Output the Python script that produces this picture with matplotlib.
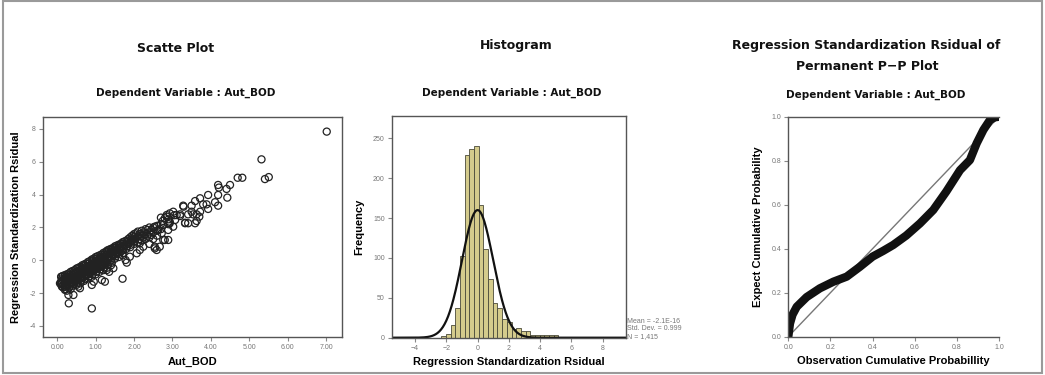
import matplotlib
matplotlib.use("Agg")
import matplotlib.pyplot as plt
import numpy as np
from matplotlib.patches import Rectangle

# ---------------- data ----------------
# Scatter: Aut_BOD vs regression standardized residual
scatter_x = [
    0.10, 0.10, 0.10, 0.15, 0.15, 0.15, 0.20, 0.20, 0.20, 0.20,
    0.25, 0.25, 0.25, 0.25, 0.30, 0.30, 0.30, 0.30, 0.30, 0.35,
    0.35, 0.35, 0.35, 0.40, 0.40, 0.40, 0.40, 0.40, 0.45, 0.45,
    0.45, 0.45, 0.50, 0.50, 0.50, 0.50, 0.50, 0.55, 0.55, 0.55,
    0.55, 0.60, 0.60, 0.60, 0.60, 0.60, 0.65, 0.65, 0.65, 0.65,
    0.70, 0.70, 0.70, 0.70, 0.70, 0.75, 0.75, 0.75, 0.75, 0.80,
    0.80, 0.80, 0.80, 0.80, 0.85, 0.85, 0.85, 0.85, 0.90, 0.90,
    0.90, 0.90, 0.90, 0.95, 0.95, 0.95, 0.95, 1.00, 1.00, 1.00,
    1.00, 1.00, 1.05, 1.05, 1.05, 1.05, 1.10, 1.10, 1.10, 1.10,
    1.10, 1.15, 1.15, 1.15, 1.15, 1.20, 1.20, 1.20, 1.20, 1.20,
    1.25, 1.25, 1.25, 1.25, 1.30, 1.30, 1.30, 1.30, 1.30, 1.35,
    1.35, 1.35, 1.40, 1.40, 1.40, 1.40, 1.40, 1.45, 1.45, 1.45,
    1.50, 1.50, 1.50, 1.50, 1.55, 1.55, 1.55, 1.60, 1.60, 1.60,
    1.60, 1.65, 1.65, 1.65, 1.70, 1.70, 1.70, 1.70, 1.75, 1.75,
    1.80, 1.80, 1.80, 1.85, 1.85, 1.90, 1.90, 1.90, 1.95, 1.95,
    2.00, 2.00, 2.00, 2.05, 2.05, 2.10, 2.10, 2.10, 2.20, 2.20,
    2.20, 2.30, 2.30, 2.30, 2.40, 2.40, 2.40, 2.40, 2.50, 2.50,
    2.50, 2.60, 2.60, 2.60, 2.70, 2.70,
    # second, offset layer of the dense band
    0.12, 0.12, 0.12, 0.22, 0.22, 0.22, 0.22, 0.32, 0.32, 0.32,
    0.32, 0.42, 0.42, 0.42, 0.42, 0.52, 0.52, 0.52, 0.52, 0.62,
    0.62, 0.62, 0.62, 0.72, 0.72, 0.72, 0.72, 0.82, 0.82, 0.82,
    0.82, 0.92, 0.92, 0.92, 0.92, 1.02, 1.02, 1.02, 1.02, 1.12,
    1.12, 1.12, 1.12, 1.22, 1.22, 1.22, 1.22, 1.32, 1.32, 1.32,
    1.32, 1.42, 1.42, 1.42, 1.42, 1.52, 1.52, 1.52, 1.62, 1.62,
    1.62, 1.72, 1.72, 1.72, 1.82, 1.82, 1.92, 1.92, 2.02, 2.02,
    2.15, 2.15, 2.25, 2.25, 2.35, 2.35, 2.45, 2.45,
    # sparse / outlying points
    7.02, 5.32, 4.70, 4.82, 5.41, 5.51, 4.19, 4.21, 4.50, 4.41,
    3.93, 4.19, 4.43, 3.72, 3.59, 3.50, 4.11, 4.19, 3.89, 3.80,
    3.93, 3.72, 3.63, 3.70, 3.28, 3.50, 3.41, 3.54, 3.02, 2.93,
    3.11, 3.20, 2.85, 2.80, 2.93, 3.07, 3.33, 3.41, 3.63, 3.59,
    2.76, 2.89, 2.80, 2.67, 2.54, 2.54, 2.63, 2.72, 2.89, 2.76,
    2.54, 2.59, 2.15, 2.07, 1.89, 1.78, 2.15, 2.24, 1.81, 1.70,
    1.46, 1.29, 1.16, 1.24, 0.90, 0.59, 0.42, 0.29, 0.20, 0.30,
    0.90, 0.07, 0.11, 3.29, 2.85, 2.93, 3.02, 3.33, 2.70, 2.75,
    2.90, 2.90, 3.05, 3.20, 0.25, 0.35, 0.55, 0.95, 1.35, 0.15,
]
scatter_y = [
    -1.00, -1.30, -1.45, -0.95, -1.20, -1.50, -0.90, -1.10, -1.35, -1.60,
    -0.85, -1.05, -1.30, -1.55, -0.80, -1.00, -1.20, -1.45, -1.70, -0.70,
    -0.95, -1.15, -1.40, -0.65, -0.90, -1.10, -1.35, -1.55, -0.60, -0.80,
    -1.05, -1.30, -0.50, -0.75, -1.00, -1.25, -1.50, -0.45, -0.70, -0.95,
    -1.20, -0.40, -0.60, -0.85, -1.10, -1.40, -0.30, -0.55, -0.80, -1.05,
    -0.25, -0.50, -0.75, -1.00, -1.25, -0.20, -0.40, -0.65, -0.90, -0.10,
    -0.35, -0.60, -0.85, -1.10, -0.05, -0.30, -0.55, -0.80, 0.05, -0.20,
    -0.45, -0.70, -1.00, 0.10, -0.15, -0.40, -0.65, 0.20, -0.05, -0.30,
    -0.55, -0.85, 0.25, 0.00, -0.25, -0.50, 0.30, 0.10, -0.15, -0.40,
    -0.70, 0.35, 0.15, -0.10, -0.35, 0.45, 0.20, -0.05, -0.30, -0.60,
    0.50, 0.30, 0.05, -0.20, 0.60, 0.35, 0.10, -0.15, -0.45, 0.65,
    0.40, 0.15, 0.70, 0.50, 0.25, 0.00, -0.30, 0.75, 0.55, 0.30,
    0.85, 0.60, 0.35, 0.10, 0.90, 0.65, 0.40, 0.95, 0.75, 0.50,
    0.20, 1.00, 0.80, 0.55, 1.10, 0.85, 0.60, 0.30, 1.15, 0.90,
    1.20, 0.95, 0.70, 1.30, 1.00, 1.40, 1.10, 0.80, 1.50, 1.20,
    1.60, 1.30, 1.00, 1.65, 1.35, 1.75, 1.45, 1.10, 1.80, 1.50,
    1.20, 1.90, 1.60, 1.30, 2.00, 1.70, 1.40, 1.00, 2.00, 1.70,
    1.30, 2.10, 1.80, 1.50, 2.20, 1.90,
    -1.15, -1.40, -1.60, -1.00, -1.25, -1.50, -1.75, -0.90, -1.10, -1.35,
    -1.60, -0.75, -1.00, -1.25, -1.45, -0.65, -0.90, -1.15, -1.40, -0.50,
    -0.75, -0.95, -1.25, -0.35, -0.60, -0.90, -1.15, -0.20, -0.45, -0.70,
    -1.00, -0.05, -0.30, -0.60, -0.85, 0.10, -0.15, -0.40, -0.70, 0.20,
    0.00, -0.25, -0.55, 0.35, 0.10, -0.15, -0.45, 0.50, 0.25, 0.00,
    -0.30, 0.60, 0.40, 0.15, -0.15, 0.75, 0.50, 0.25, 0.85, 0.65,
    0.40, 1.00, 0.75, 0.45, 1.10, 0.85, 1.25, 0.95, 1.45, 1.15,
    1.60, 1.30, 1.70, 1.40, 1.85, 1.50, 1.85, 1.55,
    7.84, 6.15, 5.03, 5.03, 4.95, 5.07, 4.59, 4.43, 4.59, 4.35,
    3.98, 3.98, 3.82, 3.78, 3.61, 3.33, 3.54, 3.33, 3.41, 3.41,
    3.13, 2.96, 2.80, 2.66, 3.33, 2.96, 2.80, 2.80, 2.96, 2.86,
    2.76, 2.80, 2.76, 2.56, 2.35, 2.46, 2.26, 2.26, 2.40, 2.26,
    2.15, 1.85, 1.24, 0.83, 0.73, 2.05, 1.85, 1.65, 1.24, 1.24,
    0.83, 0.63, 1.04, 0.43, 0.22, 0.02, 0.63, 0.83, -0.14, -1.12,
    -0.48, -0.59, -1.20, -1.30, -1.50, -1.70, -2.11, -2.11, -1.80, -2.62,
    -2.93, -1.40, -1.00, 3.27, 2.66, 2.26, 2.05, 2.29, 2.60, 2.40,
    2.50, 2.20, 2.75, 2.70, -1.85, -1.75, -1.60, -1.30, -0.70, -1.65,
]

# Histogram of standardized residuals (bin left edges and counts)
hist_left = [-2.33, -2.03, -1.73, -1.43, -1.13, -0.83, -0.53, -0.23, 0.07, 0.37,
             0.67, 0.97, 1.27, 1.57, 1.87, 2.17, 2.47, 2.77, 3.07, 3.37,
             3.67, 3.97, 4.27, 4.57, 4.87, 6.07, 7.97]
hist_count = [2, 5, 16, 37, 102, 229, 237, 240, 166, 111,
              74, 43, 37, 24, 20, 11, 12, 8, 8, 4,
              4, 3, 3, 3, 3, 1, 1]
hist_bin_width = 0.30
hist_mean = 0.0
hist_std = 0.999
normal_peak = 160
stats_text = "Mean = -2.1E-16\nStd. Dev. = 0.999\nN = 1,415"

# P-P plot (observed cumulative prob vs expected cumulative prob)
pp_obs = [0.0, 0.008, 0.02, 0.04, 0.087, 0.15, 0.214, 0.277, 0.34, 0.40,
          0.45, 0.498, 0.56, 0.625, 0.688, 0.75, 0.815, 0.862, 0.894, 0.926,
          0.957, 0.98, 1.0]
pp_exp = [0.0, 0.06, 0.10, 0.136, 0.18, 0.22, 0.25, 0.273, 0.318, 0.364,
          0.39, 0.417, 0.46, 0.515, 0.576, 0.66, 0.757, 0.803, 0.879, 0.94,
          0.985, 0.997, 1.0]

scatter_xticks = [0, 1, 2, 3, 4, 5, 6, 7]
scatter_yticks = [-4, -2, 0, 2, 4, 6, 8]
hist_xticks = [-4, -2, 0, 2, 4, 6, 8]
hist_yticks = [0, 50, 100, 150, 200, 250]
pp_ticks = [0.0, 0.2, 0.4, 0.6, 0.8, 1.0]

# ---------------- style ----------------
TITLE_FONT = ['Liberation Sans Narrow', 'DejaVu Sans']
LABEL_FONT = ['Liberation Sans', 'DejaVu Sans']
TICK_COLOR = '#888888'
SPINE_COLOR = '#555555'

fig = plt.figure(figsize=(10.45, 3.75), dpi=100)
fig.patch.set_facecolor('white')

W, H = 1045.0, 375.0
def ax_rect(l, t, r, b):
    return [l / W, (H - b) / H, (r - l) / W, (b - t) / H]

def style_axes(ax):
    for s in ax.spines.values():
        s.set_color(SPINE_COLOR)
        s.set_linewidth(1.0)
    ax.tick_params(axis='both', direction='out', length=3, width=0.8,
                   color=TICK_COLOR, labelcolor='#777777', labelsize=5, pad=2)
    for lab in ax.get_xticklabels() + ax.get_yticklabels():
        lab.set_family(LABEL_FONT)

# Outer border
fig.patches.append(Rectangle((3 / W, 1 - 373 / H), 1039 / W, 372 / H,
                             transform=fig.transFigure, fill=False,
                             edgecolor='#9a9a9a', linewidth=1.5))

# --- Scatter ---
ax1 = fig.add_axes(ax_rect(42.7, 117, 341.7, 337))
ax1.scatter(scatter_x, scatter_y, s=26, facecolors='none', edgecolors='#222222',
            linewidths=0.9)
ax1.set_xlim(-0.38, 7.41)
ax1.set_ylim(-4.67, 8.73)
ax1.set_xticks(scatter_xticks)
ax1.set_xticklabels([f"{v:.2f}" for v in scatter_xticks])
ax1.set_yticks(scatter_yticks)
ax1.set_yticklabels([str(v) for v in scatter_yticks])
ax1.set_xlabel('Aut_BOD', fontsize=8, fontweight='bold', family=LABEL_FONT, labelpad=4)
ax1.set_ylabel('Regression Standardization Rsidual', fontsize=8, fontweight='bold',
               family=LABEL_FONT, labelpad=6)
style_axes(ax1)

# --- Histogram ---
ax2 = fig.add_axes(ax_rect(391.7, 116, 626, 337.7))
ax2.bar(hist_left, hist_count, width=hist_bin_width, align='edge',
        color='#d4cb8c', edgecolor='#4a4a3a', linewidth=0.6)
xs = np.linspace(-5.5, 9.5, 400)
ax2.plot(xs, normal_peak * np.exp(-0.5 * ((xs - hist_mean) / hist_std) ** 2),
         color='#111111', linewidth=1.6)
ax2.set_xlim(-5.5, 9.5)
ax2.set_ylim(0, 278)
ax2.set_xticks(hist_xticks)
ax2.set_yticks(hist_yticks)
ax2.set_xlabel('Regression Standardization Rsidual', fontsize=8, fontweight='bold',
               family=LABEL_FONT, labelpad=4)
ax2.set_ylabel('Frequency', fontsize=8, fontweight='bold', family=LABEL_FONT, labelpad=6)
style_axes(ax2)
ax2.text(1.005, 0.09, stats_text, transform=ax2.transAxes, ha='left', va='top',
         fontsize=5, color='#777777', family=LABEL_FONT, linespacing=1.1)

# --- P-P plot ---
ax3 = fig.add_axes(ax_rect(788.3, 116.7, 999, 336.7))
ax3.plot([0, 1], [0, 1], color='#777777', linewidth=1.0)
ax3.plot(pp_obs, pp_exp, color='#111111', linewidth=6, solid_capstyle='round',
         solid_joinstyle='round')
ax3.set_xlim(0, 1)
ax3.set_ylim(0, 1)
ax3.set_xticks(pp_ticks)
ax3.set_yticks(pp_ticks)
ax3.set_xticklabels([f"{v:.1f}" for v in pp_ticks])
ax3.set_yticklabels([f"{v:.1f}" for v in pp_ticks])
ax3.set_xlabel('Observation Cumulative Probabillity', fontsize=8, fontweight='bold',
               family=LABEL_FONT, labelpad=4)
ax3.set_ylabel('Expect Cumulative Probability', fontsize=8, fontweight='bold',
               family=LABEL_FONT, labelpad=6)
style_axes(ax3)
ax3.spines['right'].set_visible(False)

# --- Titles ---
def ftext(x, y, s, size):
    fig.text(x / W, 1 - y / H, s, ha='center', va='center', fontsize=size,
             fontweight='bold', family=TITLE_FONT, color='#111111')

ftext(176, 48, 'Scatte Plot', 9)
ftext(186, 93, 'Dependent Variable : Aut_BOD', 7.5)
ftext(516, 45, 'Histogram', 9)
ftext(512, 93, 'Dependent Variable : Aut_BOD', 7.5)
ftext(866, 45, 'Regression Standardization Rsidual of', 9)
ftext(867, 67, 'Permanent P\u2212P Plot', 9)
ftext(876, 95, 'Dependent Variable : Aut_BOD', 7.5)

fig.savefig('out.png', dpi=100, facecolor='white')
